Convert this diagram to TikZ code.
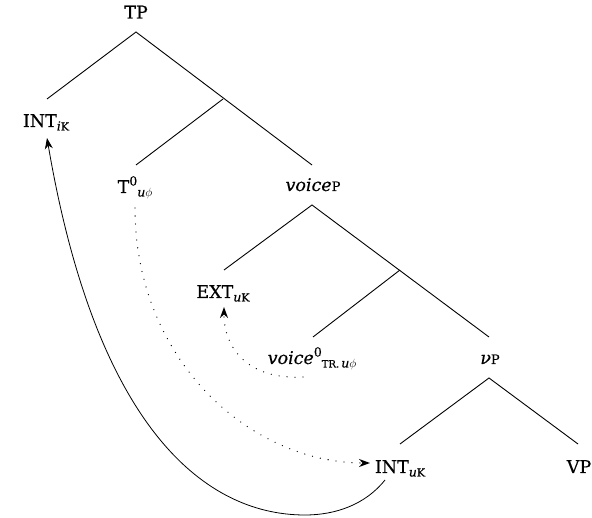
\documentclass[tikz,border=0pt]{standalone}
\usepackage{fontspec}
\setmainfont{DejaVu Serif}[FakeBold=0.4]
\usetikzlibrary{arrows.meta}

% label pieces: lowered subscript, raised superscript, faked small capitals
\newcommand\subtx[1]{\raisebox{-3.5pt}{\fontsize{12.5}{13}\selectfont #1}}
\newcommand\suptx[1]{\raisebox{7.5pt}{\fontsize{12.5}{13}\selectfont #1}}
\newcommand\scP{{\fontsize{13}{13}\selectfont P}}
\newcommand\scK{{\fontsize{11}{11}\selectfont K}}
\newcommand\scTR{{\fontsize{10}{10}\selectfont TR.}}

\begin{document}
\begin{tikzpicture}[x=1pt,y=-1pt,
  lbl/.style={font=\fontsize{17.5}{20}\selectfont, inner sep=0pt, anchor=base},
  branch/.style={line width=0.9pt},
  move/.style={-{Stealth[length=11pt,width=8pt,inset=3.5pt]}, line width=0.8pt},
  agree/.style={move, dash pattern=on 0pt off 8pt, line cap=round, line width=1.3pt}]
\useasboundingbox (0,0) rectangle (592,518);

% labels
\node[lbl] (TP)     at (136,18.5) {TP};
\node[lbl] (INTi)   at (46,127)   {INT\subtx{\textit{i}\scK}};
\node[lbl] (T0)     at (135,193)  {T\suptx{0}\subtx{\textit{u}$\phi$}};
\node[lbl] (voiceP) at (313,191)  {\textit{voice}\scP};
\node[lbl] (EXT)    at (223,298)  {EXT\subtx{\textit{u}\scK}};
\node[lbl] (voice0) at (312,364)  {\textit{voice}\suptx{0}\subtx{\scTR\,\textit{u}$\phi$}};
\node[lbl] (vP)     at (490,364)  {\textit{ν}\scP};
\node[lbl] (INTu)   at (400,473)  {INT\subtx{\textit{u}\scK}};
\node[lbl] (VP)     at (579,473)  {VP};

% branch points: tops below mothers, ends above daughters
\coordinate (TP-top)     at (136,32);
\coordinate (INTi-end)   at (47,99);
\coordinate (Tbar)       at (223,99);
\coordinate (T0-end)     at (136,165);
\coordinate (voiceP-end) at (312,165);
\coordinate (voiceP-top) at (312,205);
\coordinate (EXT-end)    at (224,270);
\coordinate (voicebar)   at (400,270);
\coordinate (voice0-end) at (313,337);
\coordinate (vP-end)     at (489,337);
\coordinate (vP-top)     at (489,378);
\coordinate (INTu-end)   at (400,444);
\coordinate (VP-end)     at (578,444);

\draw[branch] (INTi-end) -- (TP-top) -- (voiceP-end);
\draw[branch] (Tbar) -- (T0-end);
\draw[branch] (EXT-end) -- (voiceP-top) -- (vP-end);
\draw[branch] (voicebar) -- (voice0-end);
\draw[branch] (INTu-end) -- (vP-top) -- (VP-end);

% movement and agreement arrows
\coordinate (INTu-out)  at (385,480);
\coordinate (INTi-in)   at (47,138);
\coordinate (T0-out)    at (135,208);
\coordinate (INTu-in)   at (370,463);
\coordinate (voice0-out) at (303,377);
\coordinate (EXT-in)    at (224,307);

\draw[move] (INTu-out) .. controls (365,505) and (335,515) .. (305,515)
  .. controls (200,515) and (95,420) .. (INTi-in);
\draw[agree] (T0-out) .. controls (135,360) and (250,463) .. (INTu-in);
\draw[agree] (voice0-out) .. controls (250,380) and (224,350) .. (EXT-in);
\end{tikzpicture}
\end{document}
